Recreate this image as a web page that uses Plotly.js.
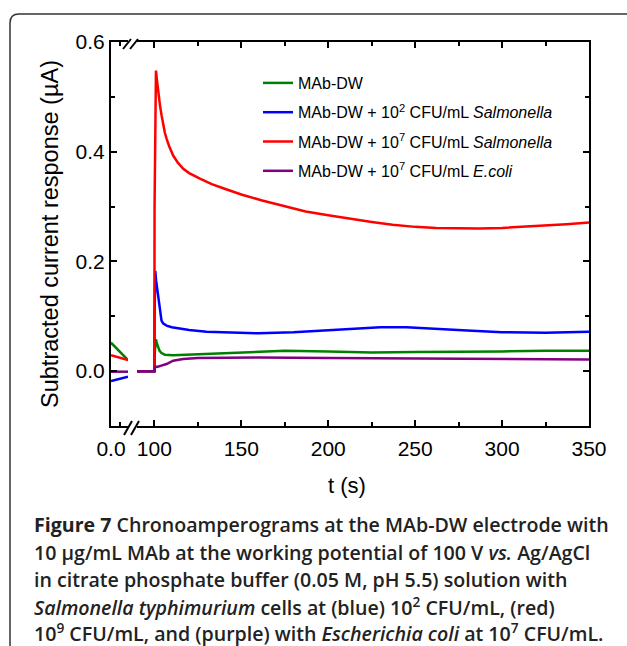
<!DOCTYPE html>
<html>
<head>
<meta charset="utf-8">
<script src="https://cdn.plot.ly/plotly-3.0.1.min.js"></script>
<style>html,body{margin:0;padding:0;background:#fff;}#chart{width:627px;height:646px;}</style>
</head>
<body>
<div id="chart"></div>
<script>
// ---- data ----
const seriesNames = [
  "MAb-DW",
  "MAb-DW + 10<sup>2</sup> CFU/mL <i>Salmonella</i>",
  "MAb-DW + 10<sup>7</sup> CFU/mL <i>Salmonella</i>",
  "MAb-DW + 10<sup>7</sup> CFU/mL <i>E.coli</i>"
];
const seriesColors = ["#008000", "#0000ff", "#ff0000", "#800080"];

// segment before the axis break (s)
const tLeft = [0, 5, 10];
const greenLeft  = [0.052, 0.036, 0.020];
const blueLeft   = [-0.018, -0.014, -0.010];
const redLeft    = [0.029, 0.024, 0.020];
const purpleLeft = [-0.001, -0.001, -0.001];

// segment after the axis break (s)
const tGreen = [90, 100, 100.1, 100.9, 101.5, 102.2, 103, 104.1, 106, 110.8, 120, 130, 145, 160, 175, 200, 225, 250, 275, 300, 325, 350];
const green  = [0, 0, 0.030, 0.058, 0.050, 0.043, 0.037, 0.033, 0.030, 0.029, 0.030, 0.031, 0.033, 0.035, 0.037, 0.036, 0.034, 0.035, 0.035, 0.036, 0.037, 0.037];

const tBlue = [90, 100, 100.1, 100.5, 101, 101.6, 102.2, 102.7, 103.2, 104.1, 105, 107, 110, 114.7, 120, 130, 145, 160, 180, 200, 215, 230, 245, 260, 280, 300, 325, 350];
const blue  = [0, 0, 0.100, 0.183, 0.165, 0.150, 0.138, 0.120, 0.107, 0.092, 0.087, 0.083, 0.080, 0.077, 0.075, 0.072, 0.070, 0.069, 0.071, 0.075, 0.078, 0.080, 0.080, 0.078, 0.074, 0.071, 0.070, 0.072];

const tRed = [90, 100, 100.1, 100.9, 101.5, 102.2, 103.2, 104.2, 105.1, 106, 107, 108.5, 110.8, 113.5, 116.6, 120, 126.2, 133, 140, 150, 162, 175, 187, 200, 212, 225, 237, 250, 262, 275, 287, 300, 312, 325, 337, 350];
const red  = [0, 0, 0.300, 0.548, 0.530, 0.509, 0.485, 0.465, 0.448, 0.435, 0.424, 0.410, 0.393, 0.380, 0.369, 0.361, 0.351, 0.341, 0.333, 0.322, 0.311, 0.300, 0.291, 0.284, 0.278, 0.272, 0.267, 0.263, 0.261, 0.260, 0.260, 0.261, 0.263, 0.265, 0.268, 0.271];

const tPurple = [90, 100, 100.5, 102, 104, 107, 110.8, 116.6, 125, 140, 160, 200, 250, 300, 350];
const purple  = [0, 0, 0.008, 0.008, 0.010, 0.013, 0.019, 0.022, 0.024, 0.025, 0.025, 0.024, 0.023, 0.022, 0.021];

const yTickVals = [0.0, 0.2, 0.4, 0.6];

// ---- geometry helpers (pixels -> paper) ----
const ML = 111, MR = 38, MT = 42, MB = 220, W = 627, H = 646;
const PW = W - ML - MR, PH = H - MT - MB;
const px = x => (x - ML) / PW;
const py = y => (H - MB - y) / PH;

const leftX = [tLeft, tLeft, tLeft, tLeft];
const leftY = [greenLeft, blueLeft, redLeft, purpleLeft];
const rightX = [tGreen, tBlue, tRed, tPurple];
const rightY = [green, blue, red, purple];

const traces = [];
for (let i = 0; i < 4; i++) {
  traces.push({
    x: leftX[i], y: leftY[i], xaxis: "x", yaxis: "y", type: "scatter", mode: "lines",
    line: {color: seriesColors[i], width: 2.5}, showlegend: false, legendgroup: "g" + i,
    hoverinfo: "skip"
  });
}
for (let i = 0; i < 4; i++) {
  traces.push({
    x: rightX[i], y: rightY[i], xaxis: "x2", yaxis: "y", type: "scatter", mode: "lines",
    name: seriesNames[i], line: {color: seriesColors[i], width: 2.5}, legendgroup: "g" + i
  });
}
// invisible trace to bring in right mirror y axis
traces.push({x: [200], y: [0], xaxis: "x2", yaxis: "y2", type: "scatter", mode: "markers",
  marker: {opacity: 0}, showlegend: false, hoverinfo: "skip"});

const tickFont = {family: "Liberation Sans, Arial, sans-serif", size: 21, color: "#000"};
const axisCommon = {showline: true, linecolor: "#000", linewidth: 2, ticks: "inside",
  tickcolor: "#000", tickwidth: 2, ticklen: 6, showgrid: false, zeroline: false, tickfont: tickFont};

// break marks and frame (decorations)
function seg(x0, y0, x1, y1) {
  return {type: "line", xref: "paper", yref: "paper", x0: px(x0), y0: py(y0), x1: px(x1), y1: py(y1),
    line: {color: "#000", width: 2}};
}
const r = 9;
const fl = 10, ft = 14, fr = 660, fb = 680;
const framePath = "M " + px(fl) + "," + py(fb) +
  " L " + px(fl) + "," + py(ft + r) +
  " Q " + px(fl) + "," + py(ft) + " " + px(fl + r) + "," + py(ft) +
  " L " + px(fr) + "," + py(ft);
const shapes = [
  seg(124, 435, 132, 421), seg(131, 435, 139, 421),
  seg(123, 49, 131, 39), seg(130, 49, 138, 39),
  {type: "path", xref: "paper", yref: "paper", path: framePath, line: {color: "#333", width: 1.5}}
];

const capFont = {family: "Open Sans, sans-serif", size: 19.6, color: "#222", weight: 600};
const capLines = [
  "<b>Figure 7</b> Chronoamperograms at the MAb-DW electrode with",
  "10 µg/mL MAb at the working potential of 100 V <i>vs.</i> Ag/AgCl",
  "in citrate phosphate buffer (0.05 M, pH 5.5) solution with",
  "<i>Salmonella typhimurium</i> cells at (blue) 10<sup>2</sup> CFU/mL, (red)",
  "10<sup>9</sup> CFU/mL, and (purple) with <i>Escherichia coli</i> at 10<sup>7</sup> CFU/mL."
];
const capY = [524, 552, 579, 606, 632];
const annotations = capLines.map((t, i) => ({
  text: t, xref: "paper", yref: "paper", x: px(32), y: py(capY[i]), xanchor: "left", yanchor: "middle",
  showarrow: false, font: capFont
}));
annotations.push({text: "t (s)", xref: "paper", yref: "paper", x: px(347), y: py(485),
  xanchor: "center", yanchor: "middle", showarrow: false,
  font: {family: "Liberation Sans, Arial, sans-serif", size: 22, color: "#000"}});

const layout = {
  width: W, height: H, margin: {l: ML, r: MR, t: MT, b: MB},
  paper_bgcolor: "#fff", plot_bgcolor: "#fff", showlegend: true,
  font: {family: "Liberation Sans, Arial, sans-serif", color: "#000"},
  xaxis: Object.assign({}, axisCommon, {domain: [0, px(128)], range: [0, 10], tickmode: "array",
    tickvals: [0], ticktext: ["0.0"], mirror: "ticks", ticklabelstandoff: 3,
    minor: {tickmode: "array", tickvals: [5], ticks: "inside", ticklen: 4, tickwidth: 2, tickcolor: "#000"}}),
  xaxis2: Object.assign({}, axisCommon, {domain: [px(137), 1], range: [90, 350], anchor: "y",
    tick0: 0, dtick: 50, mirror: "ticks", ticklabelstandoff: 3,
    minor: {tick0: 0, dtick: 25, ticks: "inside", ticklen: 4, tickwidth: 2, tickcolor: "#000"}}),
  yaxis: Object.assign({}, axisCommon, {range: [-0.1, 0.6], tickmode: "array", tickvals: yTickVals,
    tickformat: ".1f", anchor: "x",
    title: {text: "Subtracted current response (µA)", standoff: 10,
      font: {family: "Liberation Sans, Arial, sans-serif", size: 23.5, color: "#000"}},
    minor: {tick0: 0, dtick: 0.1, ticks: "inside", ticklen: 4, tickwidth: 2, tickcolor: "#000"}}),
  yaxis2: Object.assign({}, axisCommon, {range: [-0.1, 0.6], overlaying: "y", side: "right", anchor: "x2",
    tickmode: "array", tickvals: yTickVals, showticklabels: false,
    minor: {tick0: 0, dtick: 0.1, ticks: "inside", ticklen: 4, tickwidth: 2, tickcolor: "#000"}}),
  legend: {x: px(258), y: py(66), xanchor: "left", yanchor: "top", bgcolor: "rgba(0,0,0,0)",
    font: {family: "Liberation Sans, Arial, sans-serif", size: 16, color: "#000"},
    tracegroupgap: 5.5, traceorder: "grouped"},
  shapes: shapes,
  annotations: annotations
};

Plotly.newPlot("chart", traces, layout, {displayModeBar: false, staticPlot: true});
</script>
</body>
</html>
